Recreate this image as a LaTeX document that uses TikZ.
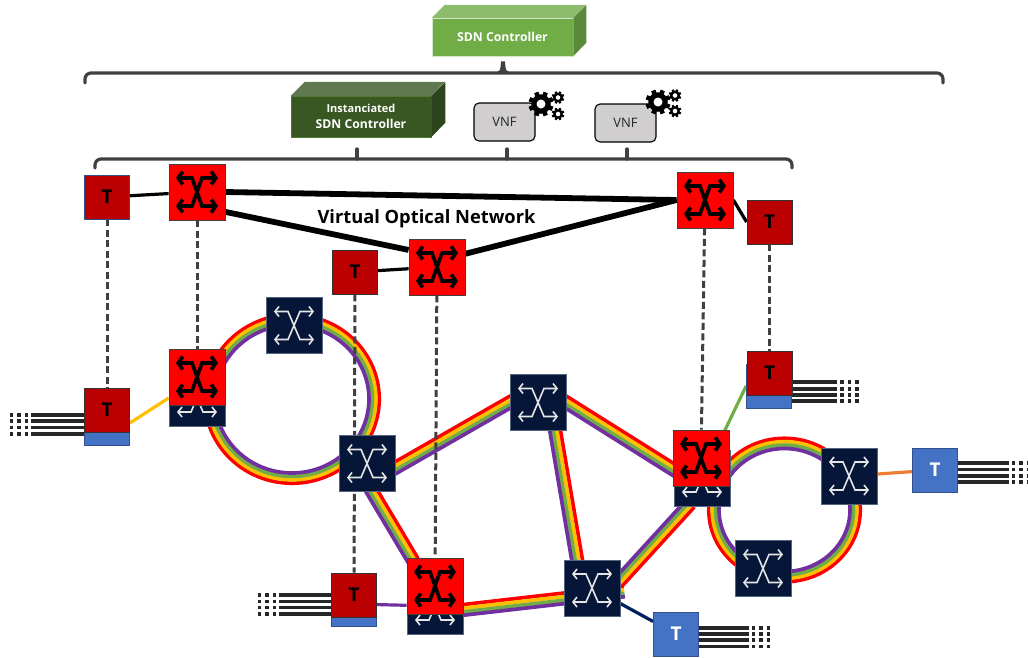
\documentclass[tikz,border=0pt]{standalone}
\usepackage{fontspec}
\setmainfont{Open Sans}
\usetikzlibrary{calc,arrows.meta}
\pgfdeclarelayer{back}
\pgfsetlayers{back,main}
\definecolor{navysw}{HTML}{061639}
\definecolor{navyedge}{HTML}{55647F}
\definecolor{redT}{HTML}{BA0000}
\definecolor{blueT}{HTML}{4472C4}
\definecolor{blueedge}{HTML}{2F528F}
\definecolor{brk}{HTML}{404040}
\definecolor{oo}{HTML}{FFC000}
\definecolor{gg}{HTML}{70AD47}
\definecolor{pp}{HTML}{7030A0}
\definecolor{og}{HTML}{ED7D31}
\definecolor{nv}{HTML}{002060}
\definecolor{vnfgrey}{HTML}{D0CECE}
\tikzset{
 navybox/.style={draw=navyedge,line width=.7pt,fill=navysw,minimum size=56pt,inner sep=0pt},
 redbox/.style={draw=black!75,line width=.8pt,fill=red,minimum size=56pt,inner sep=0pt},
 navyicon/.style={draw=white!90!black,line width=1.6pt,{Straight Barb[length=4pt,width=10pt]}-{Straight Barb[length=4pt,width=10pt]}},
 redicon/.style={draw=black,line width=3.6pt,{Straight Barb[length=4.5pt,width=13pt]}-{Straight Barb[length=4.5pt,width=13pt]}},
 tbase/.style={minimum width=45pt,minimum height=44pt,inner sep=0pt,font=\fontsize{19}{20}\selectfont\bfseries},
 tred/.style={tbase,fill=redT,draw=black!80,line width=.8pt,text=black},
 tblue/.style={tbase,fill=blueT,draw=blueedge,line width=.8pt,text=white},
 tbluered/.style={tbase,fill=redT,draw=blueedge,line width=.8pt,text=black},
 thin link/.style={line width=3.2pt},
 thick link/.style={line width=5.8pt,black},
 dash link/.style={line width=3pt,brk,dash pattern=on 7pt off 3.5pt},
 fibre/.style={line width=3.6pt,black!85},
 fibredots/.style={line width=3.6pt,black!85,dash pattern=on 3.5pt off 4pt},
 bracket/.style={line width=3.2pt,brk,line cap=round},
 vnfbox/.style={draw=black,line width=1.1pt,fill=vnfgrey,rounded corners=5pt,minimum width=61pt,minimum height=38pt,inner sep=0pt,font=\fontsize{13}{15}\selectfont,text=black!85},
 band/.style={line width=3.7pt,shorten <=-4pt,shorten >=-4pt},
}
\newcommand{\swnode}[6]{%
 \node[#1box] (#2) at (#3,#4) {};
 \draw[#1icon,shift={(#2.center)}] (-#5,-14) -- (-#6,-14) -- (#6,14) -- (#5,14);
 \draw[#1icon,shift={(#2.center)}] (#5,-14) -- (#6,-14) -- (-#6,14) -- (-#5,14);
}
\newcommand{\rbow}[2]{%
 \draw[band,red] ($(#1)!5.4pt!90:(#2)$) -- ($(#2)!5.4pt!-90:(#1)$);
 \draw[band,oo] ($(#1)!1.8pt!90:(#2)$) -- ($(#2)!1.8pt!-90:(#1)$);
 \draw[band,gg] ($(#1)!-1.8pt!90:(#2)$) -- ($(#2)!-1.8pt!-90:(#1)$);
 \draw[band,pp] ($(#1)!-5.2pt!90:(#2)$) -- ($(#2)!-5.2pt!-90:(#1)$);
}
\newcommand{\ringbow}[4]{%
 \draw[red,line width=3.7pt] (#1,#2) ellipse [x radius=#3-1.8,y radius=#4-1.8];
 \draw[oo,line width=3.7pt] (#1,#2) ellipse [x radius=#3-5.2,y radius=#4-5.2];
 \draw[gg,line width=3.7pt] (#1,#2) ellipse [x radius=#3-8.6,y radius=#4-8.6];
 \draw[pp,line width=3.7pt] (#1,#2) ellipse [x radius=#3-12,y radius=#4-12];
}
\newcommand{\gearshape}[3]{%
 \fill[black] (#1,#2) circle [radius=#3*.78];
 \foreach \a in {0,45,...,315}
  \draw[black,line width=#3*.36pt] (#1,#2) -- ++(\a+22.5:#3);
 \fill[white] (#1,#2) circle [radius=#3*.36];
}
\newcommand{\fibres}[5]{% anchor, sign, solid length, dotted length, y list
 \foreach \yy in {#5} {
  \coordinate (fa) at (#1 |- 0,\yy);
  \draw[fibre] (fa) -- ++(#2*#3,0) coordinate (fb);
  \draw[fibredots] (fb) ++(#2*3,0) -- ++(#2*#4,0);
 }
}
\begin{document}
\begin{tikzpicture}[x=1pt,y=-1pt]
\useasboundingbox (0,0) rectangle (1028,657);

% cubes
\node[fill=gg,draw=white!70!gg,line width=.5pt,minimum width=141pt,minimum height=38pt,inner sep=0pt,text=white,font=\fontsize{12.2}{14}\selectfont\bfseries] (sdn) at (502.5,37) {SDN Controller};
\fill[fill=gg!80!white] (sdn.north west) -- ++(13,-13) -- ++(141,0) -- (sdn.north east) -- cycle;
\fill[fill=gg!80!black] (sdn.north east) -- ++(13,-13) -- ++(0,38) -- (sdn.south east) -- cycle;

\node[fill=gg!50!black,draw=gg!70!black,line width=.5pt,minimum width=140pt,minimum height=41pt,inner sep=0pt,text=white,align=center,font=\fontsize{12.2}{16.8}\selectfont\bfseries] (isdn) at (361,116.5) {\raisebox{-2pt}{\fontsize{11}{12}\selectfont Instanciated}\\[-1pt]\raisebox{-2pt}{SDN Controller}};
\fill[fill=gg!50!black!80!white] (isdn.north west) -- ++(14,-14) -- ++(140,0) -- (isdn.north east) -- cycle;
\fill[fill=gg!40!black] (isdn.north east) -- ++(14,-14) -- ++(0,41) -- (isdn.south east) -- cycle;

% brackets
\draw[bracket,rounded corners=6pt] (85,83) -- (85,73) -- (943,73) -- (943,83);
\draw[bracket,line cap=butt,fill=brk] (498,73) .. controls (502,72) and (502,69) .. (502.5,63) -- (503.5,63) .. controls (504,69) and (504,72) .. (508,73);
\draw[bracket,rounded corners=6pt] (95,168) -- (95,159) -- (792,159) -- (792,168);
\coordinate (tick1) at (357,159);
\coordinate (tick2) at (507,159);
\coordinate (tick3) at (627,159);
\draw[bracket] (tick1) -- ++(0,-10);
\draw[bracket] (tick2) -- ++(0,-10);
\draw[bracket] (tick3) -- ++(0,-10);

% VNFs and gears
\node[vnfbox] (vnfa) at (504.5,122) {VNF};
\node[vnfbox] (vnfb) at (625.5,123) {VNF};
\gearshape{541}{104}{12.5}
\gearshape{558}{97.5}{6.3}
\gearshape{558}{114}{6.3}
\gearshape{658}{102}{12.5}
\gearshape{675}{95.5}{6.3}
\gearshape{675}{111}{6.3}

% text
\node[inner sep=0pt,font=\fontsize{18.3}{20}\selectfont\bfseries,text=black] (vonlabel) at (426.5,219) {Virtual Optical Network};

% navy switches
\swnode{navy}{n1}{294}{325.5}{20}{6}
\swnode{navy}{n2}{197}{398}{20}{6}
\swnode{navy}{n3}{367}{463.5}{20}{6}
\swnode{navy}{n4}{538}{402.5}{20}{6}
\swnode{navy}{n5}{702}{478}{20}{6}
\swnode{navy}{n6}{849}{476}{20}{6}
\swnode{navy}{n7}{763}{568.5}{20}{6}
\swnode{navy}{n8}{592}{588}{20}{6}
\swnode{navy}{n9}{435}{606}{20}{6}
% red switches
\swnode{red}{r1}{197}{192}{21}{5}
\swnode{red}{r2}{437}{267}{21}{5}
\swnode{red}{r3}{705}{200}{21}{5}
\swnode{red}{r4}{197}{377}{21}{5}
\swnode{red}{r5}{435}{586}{21}{5}
\swnode{red}{r6}{701}{458}{21}{5}

% terminals
\node[tbase,fill=blueT,draw=blueedge,line width=.8pt] (t4b) at (107,423) {};
\node[tbase,fill=blueT,draw=blueedge,line width=.8pt] (t5b) at (769,386) {};
\node[tbase,fill=blueT,draw=blueedge,line width=.8pt] (t6b) at (354,604) {};
\node[tbluered] (t1) at (107,197) {T};
\node[tred] (t2) at (355,272) {T};
\node[tred] (t3) at (769.5,222) {T};
\node[tred] (t4) at (107,410) {T};
\node[tred] (t5) at (769.5,373) {T};
\node[tred] (t6) at (354,595) {T};
\node[tblue] (t7) at (935,470) {T};
\node[tblue] (t8) at (676,634) {T};

\begin{pgfonlayer}{back}
 \ringbow{292}{399}{89}{86}
 \ringbow{784.5}{510}{77.5}{73.5}
 \rbow{n3.-9}{n4.west}
 \rbow{n4.east}{n5.164}
 \rbow{n4.-59}{n8.118}
 \rbow{n3.-80}{r5.130}
 \rbow{n9.-8}{n8.-8}
 \rbow{n5.-117}{n8.16}
 % virtual topology
 \draw[thin link] (t1) -- (r1);
 \draw[thin link] (t2) -- (r2);
 \draw[thin link] (r3.east) -- (t3.west);
 \draw[thick link] (r1.east) -- (r3.west);
 \draw[thick link] (r1.-35) -- (r2.149);
 \draw[thick link] (r2.25) -- (r3.west);
 % dashed projections
 \draw[dash link] (t1) -- (t4);
 \draw[dash link] (r1) -- (r4);
 \draw[dash link] (t2) -- (t6);
 \draw[dash link] (r2) -- (r5);
 \draw[dash link] (r3) -- (r6);
 \draw[dash link] (t3) -- (t5);
 % access links
 \draw[thin link,oo] (t4b.east) -- (n2.west);
 \draw[thin link,gg] (t5b.west) -- (n5);
 \draw[thin link,pp] (t6b) -- (n9);
 \draw[thin link,nv] (n8) -- (t8);
 \draw[thin link,og] (n6) -- (t7);
 % fibres
 \fibres{t4.west}{-1}{53}{20}{415,421,427.5,434}
 \fibres{t5.east}{1}{45}{20}{382,389,395,401}
 \fibres{t6.west}{-1}{52}{20}{595,601.5,607.5,614}
 \fibres{t7.east}{1}{51}{20}{463,469.5,476,482}
 \fibres{t8.east}{1}{50}{20}{628,634,640,646.5}
\end{pgfonlayer}
\end{tikzpicture}
\end{document}
